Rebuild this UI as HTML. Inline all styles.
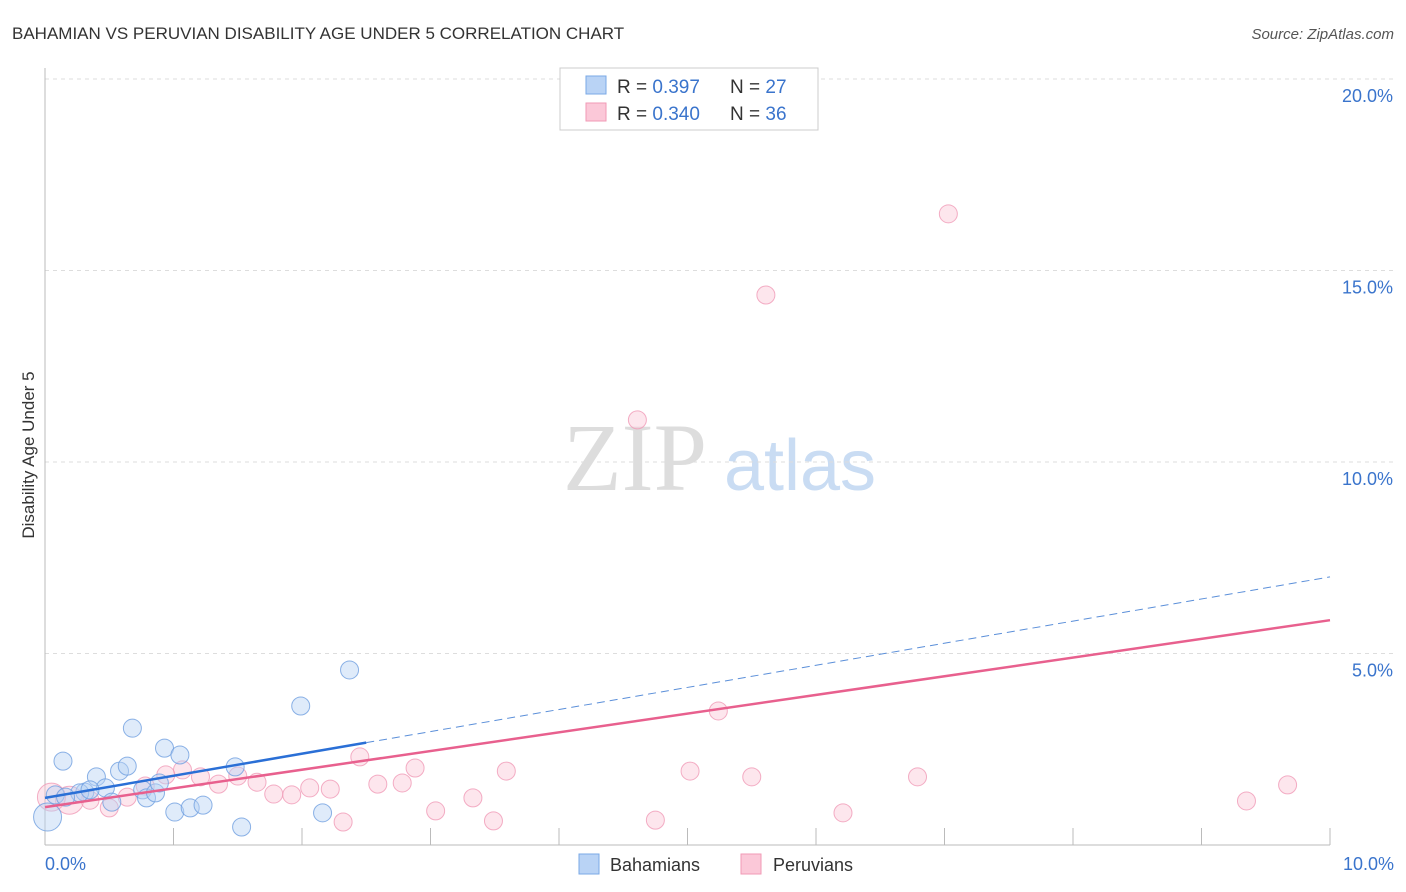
<!DOCTYPE html>
<html><head><meta charset="utf-8"><style>
body{margin:0;background:#fff;font-family:"Liberation Sans",sans-serif;}
svg{display:block}
</style></head><body>
<svg id="chart" width="1406" height="892" xmlns="http://www.w3.org/2000/svg">
<text x="12" y="39" font-size="17" fill="#333">BAHAMIAN VS PERUVIAN DISABILITY AGE UNDER 5 CORRELATION CHART</text>
<text x="1394" y="39" font-size="15" fill="#555" text-anchor="end" font-style="italic">Source: ZipAtlas.com</text>
<g>
<text x="635" y="490" font-size="96" fill="#ddd" text-anchor="middle" font-family="Liberation Serif,serif">ZIP</text>
<text x="800" y="490" font-size="72" fill="#c9dcf3" text-anchor="middle">atlas</text>
</g>
<g id="grid"></g>
<g id="axes"></g>
<g id="marks"></g>
<text transform="translate(34,455) rotate(-90)" font-size="17" fill="#333" text-anchor="middle">Disability Age Under 5</text>
<text x="45" y="870" font-size="18" fill="#3a74cc">0.0%</text>
<text x="1394" y="870" font-size="18" fill="#3a74cc" text-anchor="end">10.0%</text>
<g>
<rect x="560" y="68" width="258" height="62" fill="#fff" stroke="#ccc"/>
<rect x="586" y="76" width="20" height="18" fill="#b9d3f5" stroke="#7aa8e6"/>
<rect x="586" y="103" width="20" height="18" fill="#fbc8d8" stroke="#f09ab6"/>
<text x="617" y="93" font-size="19" fill="#333">R = <tspan fill="#3a74cc">0.397</tspan><tspan x="730">N = </tspan><tspan fill="#3a74cc">27</tspan></text>
<text x="617" y="120" font-size="19" fill="#333">R = <tspan fill="#3a74cc">0.340</tspan><tspan x="730">N = </tspan><tspan fill="#3a74cc">36</tspan></text>
</g>
<g>
<rect x="579" y="854" width="20" height="20" fill="#b9d3f5" stroke="#7aa8e6"/>
<text x="610" y="871" font-size="18" fill="#333">Bahamians</text>
<rect x="741" y="854" width="20" height="20" fill="#fbc8d8" stroke="#f09ab6"/>
<text x="773" y="871" font-size="18" fill="#333">Peruvians</text>
</g>
</svg>
<script>
const yTicks=[5,10,15,20];
const yTickLabels=["5.0%","10.0%","15.0%","20.0%"];
const xTicks=[0,1,2,3,4,5,6,7,8,9,10];
const bahX=[0.14,0.68,0.40,0.58,0.64,0.93,1.05,2.37,1.99,1.48,1.01,1.13,1.23,1.53,2.16,0.02,0.08,0.31,0.47,0.52,0.76,0.79,0.86,0.89,0.27,0.35,0.16];
const bahY=[2.19,3.05,1.78,1.93,2.06,2.53,2.35,4.57,3.63,2.04,0.86,0.97,1.04,0.47,0.84,0.73,1.31,1.38,1.49,1.12,1.44,1.23,1.36,1.62,1.36,1.44,1.25];
const bahBig=[15];
const perX=[7.03,5.61,4.61,5.24,5.02,5.50,6.79,9.67,9.35,6.21,4.75,3.59,3.49,3.33,3.04,2.88,2.78,2.59,2.45,2.32,2.22,2.06,1.92,1.78,1.65,1.50,1.35,1.21,1.07,0.94,0.78,0.64,0.50,0.35,0.19,0.05];
const perY=[16.48,14.36,11.10,3.50,1.93,1.78,1.78,1.57,1.15,0.84,0.65,1.93,0.63,1.23,0.89,2.01,1.62,1.59,2.30,0.60,1.46,1.49,1.31,1.33,1.64,1.80,1.59,1.78,1.96,1.83,1.54,1.25,0.97,1.17,1.17,1.25];
const perBig=[34,35];
const bahTrend=[1.23,7.0];
const perTrend=[0.99,5.87];
const bahSolidEnd=2.5;
const NS="http://www.w3.org/2000/svg";
const X=v=>45+v*128.5, Y=v=>845-v*38.3;
function mk(tag,at,parent){const e=document.createElementNS(NS,tag);for(const k in at)e.setAttribute(k,at[k]);document.getElementById(parent).appendChild(e);return e;}
yTicks.forEach((t,i)=>{
 const l=mk('line',{x1:45,x2:1395,y1:Y(t),y2:Y(t),stroke:'#ddd','stroke-dasharray':'4,4'},'grid');
 
 
 const tx=mk('text',{x:1393,y:Y(t)+23,'font-size':18,fill:'#3a74cc','text-anchor':'end'},'grid');
 tx.textContent=yTickLabels[i];
 
 
});
const ya=mk('line',{x1:45,x2:45,y1:68,y2:845,stroke:'#bbb'},'axes');


const xa=mk('line',{x1:45,x2:1330,y1:845,y2:845,stroke:'#bbb'},'axes');


xTicks.forEach(t=>{
 const l=mk('line',{x1:X(t),x2:X(t),y1:828,y2:845,stroke:'#bbb'},'axes');
 
 
});
function pt(x,y,big,fill,stroke,name){
 const c=mk('circle',{cx:X(x),cy:Y(y),r:big?14:9,fill:fill,'fill-opacity':0.45,stroke:stroke,'stroke-width':1,'stroke-opacity':0.8},'marks');
 
 
}
perX.forEach((x,i)=>pt(x,perY[i],perBig.includes(i),'#fbc8d8','#f09ab6','peruvian-point'));
bahX.forEach((x,i)=>pt(x,bahY[i],bahBig.includes(i),'#b9d3f5','#6f9fe0','bahamian-point'));
const by=v=>bahTrend[0]+(bahTrend[1]-bahTrend[0])*v/10;
const bl=mk('line',{x1:X(0),y1:Y(by(0)),x2:X(bahSolidEnd),y2:Y(by(bahSolidEnd)),stroke:'#2a6fd6','stroke-width':2.5},'marks');


const bd=mk('line',{x1:X(bahSolidEnd),y1:Y(by(bahSolidEnd)),x2:X(10),y2:Y(by(10)),stroke:'#5b8fd9','stroke-width':1,'stroke-dasharray':'8,5'},'marks');


const pl=mk('line',{x1:X(0),y1:Y(perTrend[0]),x2:X(10),y2:Y(perTrend[1]),stroke:'#e8608e','stroke-width':2.5},'marks');


</script>
</body></html>
